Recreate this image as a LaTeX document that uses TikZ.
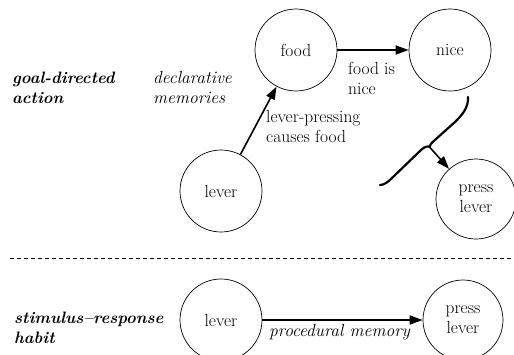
\documentclass[tikz,border=0pt]{standalone}
\usetikzlibrary{arrows.meta}
\newcommand\diagfont{\fontsize{17.5}{20}\selectfont}
\newcommand\diagbfont{\fontsize{16.5}{20}\selectfont}
\begin{document}
\begin{tikzpicture}[x=1pt,y=-1pt,
  every node/.style={font=\diagfont},
  state/.style={circle,draw,line width=0.7pt,minimum size=82pt,inner sep=0pt,align=center},
  lbl/.style={anchor=base west,align=left,inner sep=0pt},
  lblit/.style={lbl,font=\diagfont\itshape},
  lblbi/.style={lbl,font=\diagbfont\bfseries\itshape},
  conn/.style={line width=1.6pt,-{Triangle[length=13pt,width=9pt]}}]
\useasboundingbox (0,0) rectangle (514,354);
% top part
\node[state] (food) at (296,50) {food};
\node[state] (nice) at (450,50) {nice};
\node[state] (lever) at (221,191) {lever};
\node[state,minimum size=80pt] (press) at (476,199) {press\\lever};
\draw[conn] (food) -- (nice);
\draw[conn] (lever) -- (food);
\coordinate (bt) at (429.5,147);
\draw[line width=2.2pt,line cap=round,line join=round]
  (468,97) .. controls (468.5,108) and (462,115) .. (455,122)
  -- (436,139) .. controls (431,143.5) and (429.5,145) .. (bt)
  .. controls (429,146) and (425,146) .. (421,150)
  -- (392,178) .. controls (388,182) and (384,185) .. (380,185);
\draw[conn] (bt) -- (press);
\node[lblbi] (goal) at (12,103) {goal-directed\\action};
\node[lblit] (decl) at (153,103) {declarative\\memories};
\node[lbl] (fin) at (348,94) {food is\\nice};
\node[lbl] (lpc) at (266,142) {lever-pressing\\causes food};
% separator
\coordinate (dl) at (10,258);
\coordinate (dr) at (514,258);
\draw[line width=0.6pt,dash pattern=on 4pt off 3pt] (dl) -- (dr);
% bottom part
\node[state] (lever2) at (221,320) {lever};
\node[state,minimum size=80pt] (press2) at (463,320) {press\\lever};
\draw[conn] (lever2) -- (press2);
\node[lblbi] (sr) at (14,343) {stimulus--response\\habit};
\node[lblit] (proc) at (269,336) {procedural memory};
\end{tikzpicture}
\end{document}
